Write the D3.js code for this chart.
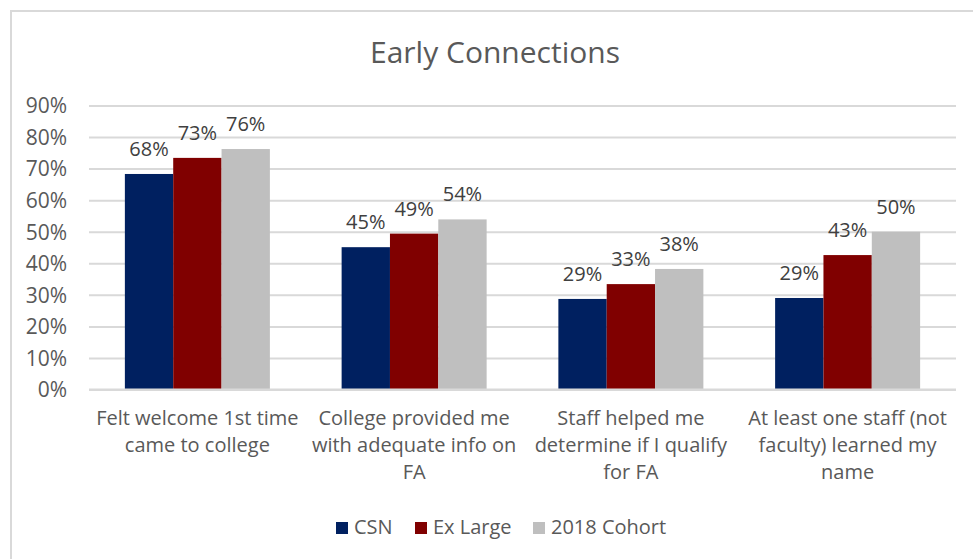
<!DOCTYPE html>
<html>
<head>
<meta charset="utf-8">
<script src="https://cdn.jsdelivr.net/npm/d3@7"></script>
<style>
  body { margin: 0; background: #fff; }
  text { font-family: "Open Sans", "Noto Sans", sans-serif; }
</style>
</head>
<body>
<div id="chart"></div>
<script>
// chart data
const categories = ["felt", "info", "staff", "name"];
const categoryLines = [
  ["Felt welcome 1st time", "came to college"],
  ["College provided me", "with adequate info on", "FA"],
  ["Staff helped me", "determine if I qualify", "for FA"],
  ["At least one staff (not", "faculty) learned my", "name"]
];
const seriesNames = ["CSN", "Ex Large", "2018 Cohort"];
const csnValues = [0.683, 0.451, 0.287, 0.290];
const exLargeValues = [0.734, 0.494, 0.334, 0.426];
const cohortValues = [0.762, 0.539, 0.382, 0.500];
const yTicks = [0, 0.1, 0.2, 0.3, 0.4, 0.5, 0.6, 0.7, 0.8, 0.9];

const colors = ["#002060", "#800000", "#bfbfbf"];
const allValues = [csnValues, exLargeValues, cohortValues];

// parameters
const w = 973;
const h = 559;
const plotLeft = 89, plotRight = 956, plotTop = 105.5, plotBottom = 389.5;
const labelSize = "20px";

const svg = d3.select("#chart").append("svg")
  .attr("width", w)
  .attr("height", h);

// chart border (only left/top edges are in frame)
svg.append("rect")
  .attr("x", 11).attr("y", 11)
  .attr("width", 1000).attr("height", 600)
  .attr("fill", "none")
  .attr("stroke", "#d9d9d9")
  .attr("stroke-width", 2);

// title
svg.append("text")
  .attr("x", 495).attr("y", 63)
  .attr("text-anchor", "middle")
  .style("font-size", "30px")
  .attr("fill", "#595959")
  .text("Early Connections");

// scales
const x0 = d3.scaleBand()
  .domain(categories)
  .range([plotLeft, plotRight])
  .paddingInner(0.331)
  .paddingOuter(0.1655);

const x1 = d3.scaleBand()
  .domain(seriesNames)
  .range([0, x0.bandwidth()]);

const y = d3.scaleLinear()
  .domain([0, 0.9])
  .range([plotBottom, plotTop]);

// gridlines + y axis
const yAxis = d3.axisLeft(y)
  .tickValues(yTicks)
  .tickFormat(d3.format(".0%"))
  .tickSize(-(plotRight - plotLeft))
  .tickPadding(22);

const gy = svg.append("g")
  .attr("transform", "translate(" + plotLeft + ",0)")
  .call(yAxis);
gy.select(".domain").remove();
gy.selectAll(".tick line")
  .attr("stroke", "#d9d9d9")
  .attr("stroke-width", 2);
gy.selectAll(".tick text")
  .attr("fill", "#595959")
  .attr("dy", "0.35em")
  .style("font-size", "21px");

// bars
const groups = svg.append("g")
  .selectAll("g")
  .data(categories)
  .enter()
  .append("g")
  .attr("transform", (d) => "translate(" + x0(d) + ",0)");

groups.selectAll("rect")
  .data((d, i) => seriesNames.map((s, j) => ({ s: s, v: allValues[j][i], c: colors[j] })))
  .enter()
  .append("rect")
  .attr("x", (d) => x1(d.s))
  .attr("y", (d) => y(d.v))
  .attr("width", x1.bandwidth())
  .attr("height", (d) => y(0) - y(d.v))
  .attr("fill", (d) => d.c);

// data labels
groups.selectAll(".lbl")
  .data((d, i) => seriesNames.map((s, j) => ({ s: s, v: allValues[j][i] })))
  .enter()
  .append("text")
  .attr("class", "lbl")
  .attr("x", (d) => x1(d.s) + x1.bandwidth() / 2)
  .attr("y", (d) => y(d.v) - 18)
  .attr("text-anchor", "middle")
  .attr("fill", "#404040")
  .style("font-size", labelSize)
  .text((d) => Math.round(d.v * 100) + "%");

// baseline
svg.append("line")
  .attr("x1", plotLeft).attr("x2", plotRight)
  .attr("y1", y(0)).attr("y2", y(0))
  .attr("stroke", "#d9d9d9")
  .attr("stroke-width", 2);

// category labels
const catLabels = svg.append("g")
  .selectAll("text")
  .data(categories)
  .enter()
  .append("text")
  .attr("x", (d) => x0(d) + x0.bandwidth() / 2)
  .attr("y", 425)
  .attr("text-anchor", "middle")
  .attr("fill", "#595959")
  .style("font-size", labelSize);

catLabels.selectAll("tspan")
  .data((d, i) => categoryLines[i])
  .enter()
  .append("tspan")
  .attr("x", function () { return this.parentNode.getAttribute("x"); })
  .attr("dy", (d, i) => (i === 0 ? 0 : 27))
  .text((d) => d);

// legend
const legendX = [336, 415, 533];
const legend = svg.append("g");
legend.selectAll("rect")
  .data(seriesNames)
  .enter()
  .append("rect")
  .attr("x", (d, i) => legendX[i])
  .attr("y", 522)
  .attr("width", 12)
  .attr("height", 12)
  .attr("fill", (d, i) => colors[i]);

legend.selectAll("text")
  .data(seriesNames)
  .enter()
  .append("text")
  .attr("x", (d, i) => legendX[i] + 18)
  .attr("y", 534)
  .attr("fill", "#595959")
  .style("font-size", labelSize)
  .text((d) => d);
</script>
</body>
</html>
